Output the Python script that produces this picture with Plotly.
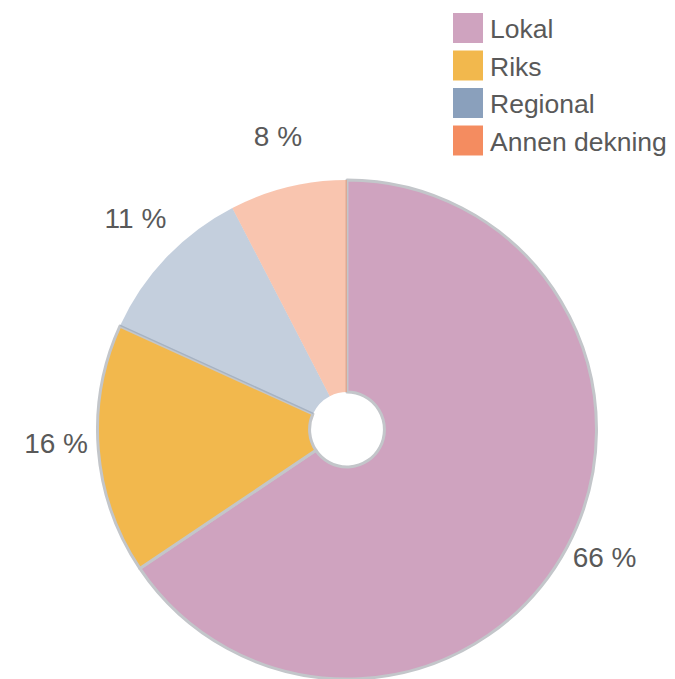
import math
import plotly.graph_objects as go

categories = ["Lokal", "Riks", "Regional", "Annen dekning"]
values = [65.6, 16.2, 10.6, 7.6]
value_labels = ["66 %", "16 %", "11 %", "8 %"]
legend_colors = ["#cfa3bf", "#f2b84d", "#8aa0bc", "#f48c60"]
slice_colors = ["#cfa3bf", "#f2b84d", "rgba(138,160,188,0.5)", "rgba(244,140,96,0.5)"]
border_colors = ["#c3c6ca", "#c3c6ca", "rgba(0,0,0,0)", "rgba(0,0,0,0)"]
border_widths = [3, 3, 0, 0]
legend_index = list(range(len(categories)))

OFF = 8  # page body margin
W, H = 675 - OFF, 679 - OFF
FONT = "Liberation Sans, Arial, sans-serif"
TXT = "#595959"

# pie placement (figure px)
PIE_L, PIE_R, PIE_T, PIE_B = 97 - OFF, 597 - OFF, 180 - OFF, H
pie_dom_x = [PIE_L / W, PIE_R / W]
pie_dom_y = [(H - PIE_B) / H, (H - PIE_T) / H]
pie_r = min(PIE_R - PIE_L, PIE_B - PIE_T) / 2
pie_cx = (PIE_L + PIE_R) / 2
pie_cy = (PIE_T + PIE_B) / 2

fig = go.Figure()
fig.add_trace(go.Pie(
    labels=categories,
    values=values,
    textinfo="none",
    sort=False,
    direction="clockwise",
    rotation=0,
    hole=0.15,
    marker=dict(colors=slice_colors, line=dict(color=border_colors, width=border_widths)),
    showlegend=False,
    hoverinfo="label+percent",
    domain=dict(x=pie_dom_x, y=pie_dom_y),
))

# data labels at each slice's mid-angle (derived from the values)
total = sum(values)
mid_theta = []
acc = 0.0
for v in values:
    mid_theta.append((acc + v / 2) / total * 2 * math.pi)
    acc += v
LABEL_R = 1.17
LABEL_LIFT = 7  # px
lab_cy = pie_cy - LABEL_LIFT
EXT = 1.3
x2_lo, x2_hi = pie_cx - EXT * pie_r, pie_cx + EXT * pie_r
y2_top = lab_cy - EXT * pie_r
y2_bottom_units = (H - lab_cy) / pie_r

fig.add_trace(go.Scatter(
    x=[LABEL_R * math.sin(t) for t in mid_theta],
    y=[LABEL_R * math.cos(t) for t in mid_theta],
    xaxis="x2", yaxis="y2",
    mode="text", text=value_labels, textposition="middle center",
    textfont=dict(family=FONT, size=28, color=TXT),
    cliponaxis=False, showlegend=False, hoverinfo="skip",
))

# legend drawn as a scatter on hidden axes (large square swatches)
fig.add_trace(go.Scatter(
    x=[0] * len(categories), y=legend_index,
    mode="markers",
    marker=dict(symbol="square", size=30, color=legend_colors, line=dict(width=0)),
    showlegend=False, hoverinfo="skip", cliponaxis=False,
))
TEXT_DX = 22 / 30
TEXT_DY = 3.5 / 37.5
fig.add_trace(go.Scatter(
    x=[TEXT_DX] * len(categories), y=[i + TEXT_DY for i in legend_index],
    mode="text", text=categories, textposition="middle right",
    textfont=dict(family=FONT, size=26.5, color=TXT),
    showlegend=False, hoverinfo="skip", cliponaxis=False,
))

sw_x = 468 - OFF
sw_y0 = 28 - OFF
step = 37.5
dom_px = 160
unit_x = 30

fig.update_layout(
    width=W, height=H,
    margin=dict(l=0, r=0, t=0, b=0),
    paper_bgcolor="white", plot_bgcolor="rgba(0,0,0,0)",
    showlegend=False,
    xaxis=dict(visible=False, domain=[0, 1],
               range=[-sw_x / unit_x, (W - sw_x) / unit_x], fixedrange=True),
    yaxis=dict(visible=False, domain=[1 - dom_px / H, 1],
               range=[(dom_px - sw_y0) / step, -sw_y0 / step], fixedrange=True),
    xaxis2=dict(visible=False, domain=[x2_lo / W, x2_hi / W], range=[-EXT, EXT],
                fixedrange=True, anchor="y2"),
    yaxis2=dict(visible=False, domain=[0, (H - y2_top) / H],
                range=[-y2_bottom_units, EXT], fixedrange=True, anchor="x2"),
)

fig.write_html("out.html")
